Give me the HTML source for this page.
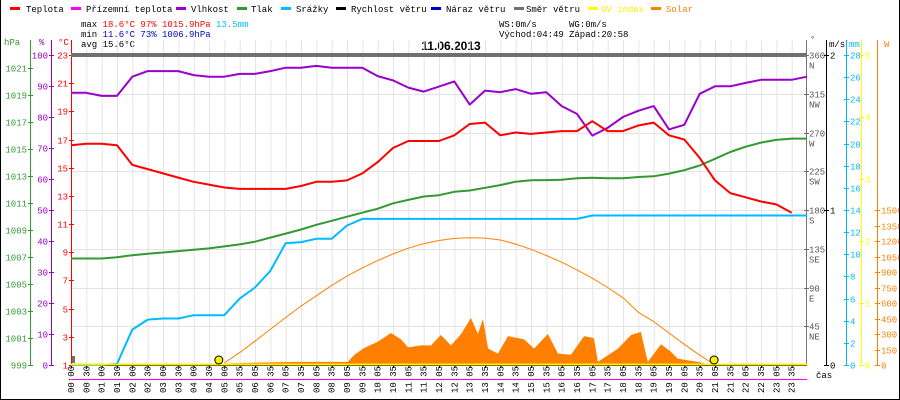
<!DOCTYPE html>
<html><head><meta charset="utf-8"><style>
html,body{margin:0;padding:0;background:#fff}
#wrap{position:relative;width:900px;height:400px;overflow:hidden;box-sizing:border-box;border:1px solid #000;border-top:none}
svg{display:block;font-family:"Liberation Mono","DejaVu Sans Mono",monospace;font-size:9px}
</style></head><body>
<div id="wrap">
<svg id="c" width="900" height="400" viewBox="0 0 900 400">
<g>
<g><rect x="9" y="7" width="10" height="3" fill="#ff0000"/><text x="25" y="12">Teplota</text></g>
<g><rect x="70" y="7" width="10" height="3" fill="#ff00ff"/><text x="85" y="12">Přízemní teplota</text></g>
<g><rect x="175" y="7" width="10" height="3" fill="#9900cc"/><text x="190" y="12">Vlhkost</text></g>
<g><rect x="236" y="7" width="10" height="3" fill="#339933"/><text x="250" y="12">Tlak</text></g>
<g><rect x="280" y="7" width="10" height="3" fill="#00bbff"/><text x="295" y="12">Srážky</text></g>
<g><rect x="335" y="7" width="10" height="3" fill="#000"/><text x="350" y="12">Rychlost větru</text></g>
<g><rect x="430" y="7" width="10" height="3" fill="#0000cc"/><text x="445" y="12">Náraz větru</text></g>
<g><rect x="513" y="7" width="10" height="3" fill="#707070"/><text x="525" y="12">Směr větru</text></g>
<g><rect x="587" y="7" width="10" height="3" fill="#ffff00"/><text x="600" y="12" fill="#ffee00">UV index</text></g>
<g><rect x="650" y="7" width="10" height="3" fill="#ff8000"/><text x="665" y="12" fill="#ff8000">Solar</text></g>
</g>
<g>
<text x="80" y="27">max <tspan fill="#f00">18.6°C  97%  1015.9hPa</tspan> <tspan fill="#00bbff">13.5mm</tspan></text>
<text x="80" y="37">min <tspan fill="#0000cc">11.6°C  73%  1006.9hPa</tspan></text>
<text x="80" y="47">avg 15.6°C</text>
<text x="498" y="27">WS:0m/s</text><text x="568" y="27">WG:0m/s</text>
<text x="498" y="37">Východ:04:49</text><text x="568" y="37">Západ:20:58</text>
</g>
<text x="450" y="50" text-anchor="middle" font-family="Liberation Sans, sans-serif" font-weight="bold" font-size="12">11.06.2013</text>
<g id="grid"></g>
<g id="axes"></g>
<g id="marks"></g>
</svg>
</div>
<script>
// ---- data (half-hour steps from 00:00) ----
const tickLabels=["00:00","00:30","01:00","01:30","02:00","02:30","03:00","03:30","04:00","04:30","05:00","05:35","06:05","06:35","07:05","07:35","08:05","08:35","09:05","09:35","10:05","10:35","11:05","11:35","12:05","12:35","13:05","13:35","14:05","14:35","15:05","15:35","16:05","16:35","17:05","17:35","18:05","18:35","19:05","19:35","20:05","20:35","21:05","21:35","22:05","22:35","23:05","23:35"];
const temperature=[16.6,16.7,16.7,16.6,15.2,14.9,14.6,14.3,14.0,13.8,13.6,13.5,13.5,13.5,13.5,13.7,14.0,14.0,14.1,14.6,15.4,16.4,16.9,16.9,16.9,17.3,18.1,18.2,17.3,17.5,17.4,17.5,17.6,17.6,18.3,17.6,17.6,18.0,18.2,17.3,17.0,15.7,14.1,13.2,12.9,12.6,12.4,11.8,11.6];
const humidity=[87.8,87.8,86.8,86.8,93.0,94.8,94.8,94.8,93.5,93.0,93.0,93.9,93.9,94.8,95.9,95.9,96.5,95.9,95.9,95.9,93.2,91.8,89.5,88.2,89.8,91.5,84,88.5,88,89,87.5,88,83.5,81,74,76.5,80,82,83.5,76,77.5,87.5,89.9,89.9,91,92,92,92,93];
const pressure=[1006.9,1006.9,1006.9,1007.0,1007.15,1007.25,1007.35,1007.45,1007.55,1007.65,1007.8,1007.95,1008.15,1008.45,1008.75,1009.05,1009.4,1009.7,1010.0,1010.3,1010.6,1011.0,1011.25,1011.5,1011.6,1011.85,1011.95,1012.15,1012.35,1012.6,1012.7,1012.72,1012.75,1012.85,1012.9,1012.85,1012.85,1012.95,1013.0,1013.2,1013.45,1013.8,1014.3,1014.8,1015.2,1015.5,1015.7,1015.8,1015.8];
const rain=[0,0,0,0.1,3.2,4.1,4.2,4.2,4.5,4.5,4.5,6.0,7.0,8.5,11.0,11.1,11.4,11.4,12.6,13.2,13.2,13.2,13.2,13.2,13.2,13.2,13.2,13.2,13.2,13.2,13.2,13.2,13.2,13.2,13.5,13.5,13.5,13.5,13.5,13.5,13.5,13.5,13.5,13.5,13.5,13.5,13.5,13.5,13.5];
const solarTheory=[null,null,null,null,null,null,null,null,null,null,20,120,230,345,460,570,670,770,860,940,1010,1075,1130,1175,1205,1225,1232,1228,1210,1170,1120,1060,995,920,840,750,650,510,420,310,200,95,0];
// measured solar (hour, W)
const solarHours=[5.0,5.12,7.27,9.03,9.23,9.55,10.0,10.43,10.76,10.99,11.41,11.74,12.06,12.39,12.72,13.04,13.27,13.43,13.6,13.92,14.25,14.77,15.1,15.55,15.88,16.3,16.73,17.05,17.18,17.84,18.26,18.58,18.81,19.24,19.56,19.79,20.44,20.87];
const solarValues=[0,15,30,30,97,164,225,310,250,170,190,190,290,190,300,455,300,445,160,110,280,250,160,300,110,100,280,260,30,160,290,320,30,200,130,60,30,0];
const sunEvents=[4.82,20.97];
const hpaTicks=[999,1001,1003,1005,1007,1009,1011,1013,1015,1017,1019,1021];
const humTicks=[0,10,20,30,40,50,60,70,80,90,100];
const tempTicks=[1,3,5,7,9,11,13,15,17,19,21,23];
const dirTicks=[45,90,135,180,225,270,315,360];
const dirNames=["NE","E","SE","S","SW","W","NW","N"];
const windTicks=[0,1,2];
const mmTicks=[0,2,4,6,8,10,12,14,16,18,20,22,24,26,28];
const uvTicks=[0,1,2,3,4,5];
const wTicks=[0,150,300,450,600,750,900,1050,1200,1350,1500];

// ---- scales ----
const X0=70,X1=806,Y0=365,Y1=55,H=Y0-Y1;
const xi=i=>X0+i*(X1-X0)/48;
const xh=h=>X0+h*(X1-X0)/24;
const yT=v=>Y0-(v-1)*H/22;
const yHu=v=>Y0-v*H/100;
const yP=v=>Y0-(v-999)*H/23;
const yR=v=>Y0-v*H/28;
const yS=v=>Y0-v*H/3000;
const yU=v=>Y0-v*H/5;
const yD=v=>Y0-v*H/360;
const yWs=v=>Y0-v*H/2;
const NS="http://www.w3.org/2000/svg";
function mk(tag,attrs,parent){const e=document.createElementNS(NS,tag);for(const k in attrs)e.setAttribute(k,attrs[k]);parent.appendChild(e);return e;}
const grid=document.getElementById('grid'),axes=document.getElementById('axes'),marks=document.getElementById('marks');

// grid
tickLabels.forEach((lab,i)=>{
  const x=xi(i)+0.5;
  if(i>0){const l=mk('line',{x1:x,x2:x,y1:Y1-15,y2:Y0,stroke:'#e4e4e4'},grid);
  
  }
  const t=mk('text',{transform:`translate(${xi(i)+3},393) rotate(-90)`,'font-size':'9'},axes);
  t.textContent=lab;
  
  
  const tk=mk('line',{x1:x,x2:x,y1:Y0,y2:Y0+3,stroke:'#000'},axes);
  
  
});
dirTicks.forEach(d=>{const y=Math.round(yD(d))+0.5;const l=mk('line',{x1:X0,x2:X1,y1:y,y2:y,stroke:'#e4e4e4'},grid);

});

// axis helper
function axis(x,color,ticks,yf,name,side,fmt){
  const g=mk('g',{},axes);
  
  
  mk('line',{x1:x+0.5,x2:x+0.5,y1:40,y2:Y0+1,stroke:color,'stroke-width':1},g);
  ticks.forEach((v,k)=>{const y=Math.round(yf(v))+0.5;
    mk('line',{x1:x-2,x2:x+3,y1:y,y2:y,stroke:color},g);
    const t=mk('text',{x:side<0?x-3:x+4,y:y+3,fill:color,'text-anchor':side<0?'end':'start'},g);
    t.textContent=fmt?fmt(v,k):v;});
  return g;
}
axis(29,'#339933',hpaTicks,yP,'hpa-axis',-1);
axis(50,'#9900cc',humTicks,yHu,'humidity-axis',-1);
axis(70,'#ff0000',tempTicks,yT,'temperature-axis',-1);
const dg=axis(805,'#707070',[],yD,'direction-axis',1);
dirTicks.forEach((d,k)=>{const y=Math.round(yD(d))+0.5;mk('line',{x1:803,x2:808,y1:y,y2:y,stroke:'#707070'},dg);
 const t=mk('text',{x:808,y:y+3,fill:'#555'},dg);t.textContent=d;
 const t2=mk('text',{x:808,y:y+13,fill:'#555'},dg);t2.textContent=dirNames[k];});
axis(825,'#000',windTicks,yWs,'wind-speed-axis',1);
axis(845,'#00bbff',mmTicks,yR,'rain-axis',1);
axis(860,'#ffff00',uvTicks,yU,'uv-axis',1);
axis(876,'#ff8000',wTicks,yS,'solar-axis',1);
[[3,45,'hPa','#339933'],[38,45,'%','#9900cc'],[57,45,'°C','#ff0000'],[809,42,'°','#555'],[828,47,'m/s','#000'],[848,47,'mm','#00bbff'],[883,47,'W','#ff8000'],[815,378,'čas','#000']].forEach(a=>{
 const t=mk('text',{x:a[0],y:a[1],fill:a[3]},axes);t.textContent=a[2];
 
 });

// marks
function line(vals,yf,color,w,name){
  const pts=[];vals.forEach((v,i)=>{if(v!==null)pts.push(xi(i).toFixed(1)+','+yf(v).toFixed(1));});
  const p=mk('polyline',{points:pts.join(' '),fill:'none',stroke:color,'stroke-width':w,'stroke-linejoin':'round'},marks);
  
  
}
// solar measured area
{const pts=solarHours.map((h,k)=>xh(h).toFixed(1)+','+yS(solarValues[k]).toFixed(1));
 const a=mk('polygon',{points:xh(solarHours[0])+','+Y0+' '+pts.join(' ')+' '+xh(solarHours[solarHours.length-1])+','+Y0,fill:'#ff8000'},marks);
 
 }
line(solarTheory,yS,'#ff8000',1,'solar-theoretical-line');
line(rain,yR,'#00bbff',2,'rain-line');
line(pressure,yP,'#339933',2,'pressure-line');
line(humidity,yHu,'#9900cc',2,'humidity-line');
{const r=mk('rect',{x:X0,y:yT(temperature[temperature.length-1]),width:0,height:0,fill:'none'},marks);}
line(temperature.slice(0,48),yT,'#ff0000',2,'temperature-line');
// direction bar at 360, wind at 0, UV at 0
{const b=mk('line',{x1:X0,x2:X1,y1:yD(360),y2:yD(360),stroke:'#707070','stroke-width':4},marks);


const s=mk('rect',{x:X0+1,y:356,width:3,height:7,fill:'#707070'},marks);


const u=mk('line',{x1:X0,x2:X1,y1:yU(0)-0.5,y2:yU(0)-0.5,stroke:'#ffee00','stroke-width':2},marks);


const m=mk('line',{x1:X0,x2:X1,y1:379.5,y2:379.5,stroke:'#ff00ff','stroke-width':1},marks);


const bl=mk('line',{x1:X0,x2:X1,y1:Y0+0.5,y2:Y0+0.5,stroke:'#000','stroke-width':1},axes);

}
sunEvents.forEach(h=>{const c=mk('circle',{cx:xh(h),cy:360,r:4,fill:'#ffee00',stroke:'#000','stroke-width':1},marks);

});
</script>
</body></html>
